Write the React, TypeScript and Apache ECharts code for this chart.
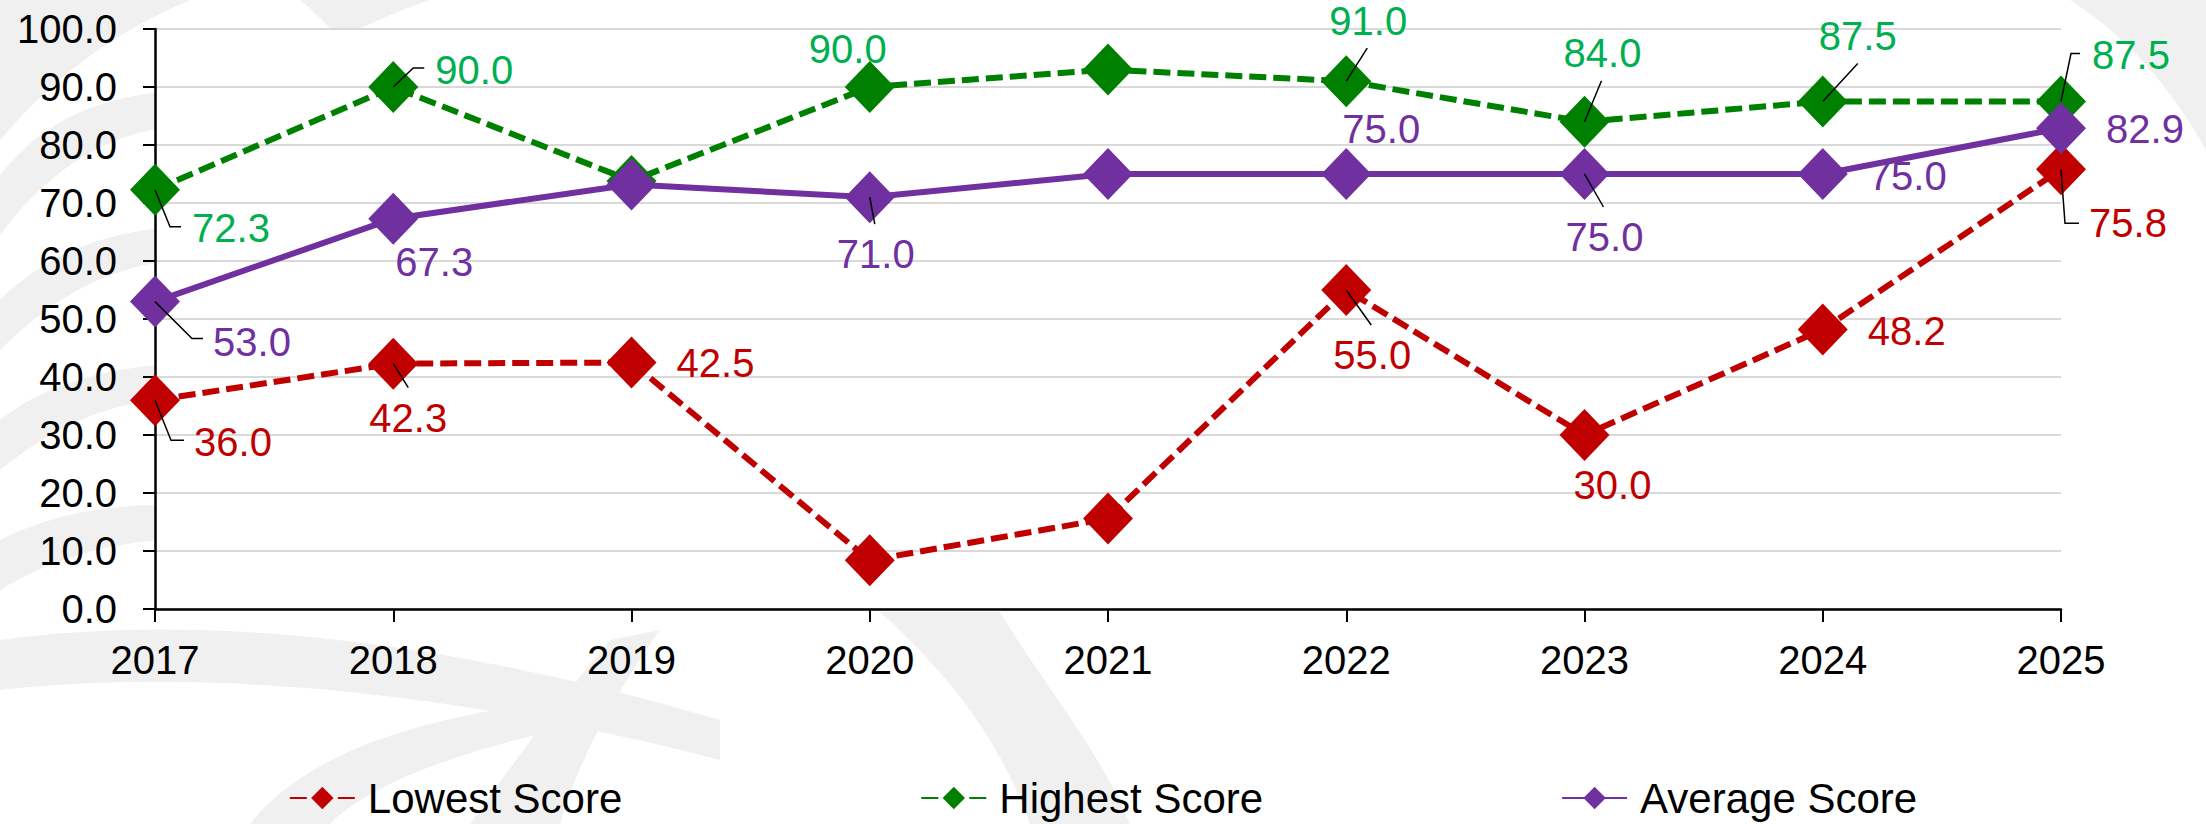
import React, { useEffect, useRef } from "react";
import * as echarts from "echarts";

// ---------- data ----------
const years = ["2017", "2018", "2019", "2020", "2021", "2022", "2023", "2024", "2025"];
const lowestScore = [36.0, 42.3, 42.5, 8.4, 15.6, 55.0, 30.0, 48.2, 75.8];
const highestScore = [72.3, 90.0, 73.8, 90.0, 93.0, 91.0, 84.0, 87.5, 87.5];
const averageScore = [53.0, 67.3, 73.2, 71.0, 75.0, 75.0, 75.0, 75.0, 82.9];
const yMin = 0;
const yMax = 100;
const yStep = 10;
const seriesNames = ["Lowest Score", "Highest Score", "Average Score"];

// ---------- label placement (pixel offsets from the marker centre) ----------
type Off = [number, number] | null;
const lowestLabelOff: Off[] = [[78, 42], [15, 54], [84, 0], null, null, [26, 65], [28, 50], [84, 2], [67, 54]];
const highestLabelOff: Off[] = [[76, 38], [81, -17], null, [-22, -38], null, [22, -60], [18, -69], [35, -66], [70, -47]];
const averageLabelOff: Off[] = [[97, 40], [41, 43], null, [6, 57], null, [35, -45], [20, 63], [85, 2], [84, 1]];

type Pts = number[][] | null;
const lowestLeaders: Pts[] = [[[0, 0], [16, 40], [29, 40]], [[0, 0], [15, 24]], null, null, null, [[0, 0], [25, 35]], null, null, [[0, 0], [4, 54], [18, 54]]];
const highestLeaders: Pts[] = [[[0, 0], [15, 37], [26, 37]], [[0, 0], [20, -19], [31, -19]], null, null, null, [[0, 0], [21, -33]], [[0, 0], [17, -41]], [[0, 0], [35, -38]], [[0, 0], [10, -48], [19, -48]]];
const averageLeaders: Pts[] = [[[0, 0], [37, 37], [48, 37]], null, null, [[0, 0], [5, 27]], null, null, [[0, 0], [19, 33]], null, null];

// ---------- styles ----------
const FONT = "'Liberation Sans', Arial, sans-serif";
const RED = "#C00000";
const GREEN = "#008000";
const GREEN_LABEL = "#00B050";
const PURPLE = "#7030A0";

const watermarkPaths = [
  "M0,0 L190,0 C120,30 60,70 0,140 Z",
  "M0,175 C40,125 90,100 160,92 L160,128 C95,140 45,175 0,235 Z",
  "M0,300 C45,255 100,235 160,228 L160,262 C100,272 50,300 0,350 Z",
  "M0,420 C45,385 100,370 160,365 L160,400 C100,405 50,430 0,470 Z",
  "M0,540 C50,515 105,505 160,505 L160,540 C100,545 50,560 0,590 Z",
  "M0,640 C200,612 450,640 720,720 L720,760 C450,690 200,668 0,690 Z",
  "M250,824 C300,760 400,720 560,700 L600,722 C450,748 360,792 330,824 Z",
  "M470,824 C515,760 560,700 610,640 L660,630 C610,700 575,770 560,824 Z",
  "M880,612 L1000,612 C1040,680 1100,750 1130,824 L1030,824 C1000,740 950,675 880,612 Z",
  "M300,0 L430,0 C400,10 380,20 360,28 L330,28 C320,18 310,8 300,0 Z",
  "M2070,0 L2206,0 L2206,150 C2170,85 2125,35 2070,0 Z",
];

export default function App() {
  const ref = useRef<HTMLDivElement>(null);

  useEffect(() => {
    document.body.style.margin = "0";
    if (!ref.current) return;
    const chart = echarts.init(ref.current, undefined, { renderer: "svg" });

    watermarkPaths.forEach((d, i) => {
      echarts.graphic.registerShape("wm" + i, echarts.graphic.extendPath(d, {}) as any);
    });

    const mkData = (vals: number[], offs: Off[]) =>
      vals.map((v, i) => {
        const o = offs[i];
        return {
          value: v,
          label: o ? { show: true, position: "inside", offset: o } : { show: false },
        };
      });

    const lineSeries = (
      name: string,
      vals: number[],
      offs: Off[],
      color: string,
      labelColor: string,
      dashed: boolean,
      z: number
    ) => ({
      name,
      type: "line",
      data: mkData(vals, offs),
      symbol: "diamond",
      symbolSize: [50, 52],
      showAllSymbol: true,
      z,
      itemStyle: { color, borderWidth: 0 },
      lineStyle: {
        color,
        width: 6,
        type: dashed ? [17, 7] : "solid",
      },
      label: {
        show: true,
        color: labelColor,
        fontSize: 40,
        fontFamily: FONT,
        formatter: (p: any) => Number(p.value).toFixed(1),
      },
      emphasis: { disabled: true },
    });

    // leader lines data built from the series arrays
    const leaderData: any[] = [];
    const leaderPts: number[][][] = [];
    const addLeaders = (vals: number[], pts: Pts[]) => {
      vals.forEach((v, i) => {
        const p = pts[i];
        if (p) {
          leaderData.push([i, v]);
          leaderPts.push(p);
        }
      });
    };
    addLeaders(lowestScore, lowestLeaders);
    addLeaders(highestScore, highestLeaders);
    addLeaders(averageScore, averageLeaders);

    const option: any = {
      animation: false,
      backgroundColor: "#ffffff",
      textStyle: { fontFamily: FONT },
      graphic: watermarkPaths.map((_, i) => ({
        type: "wm" + i,
        x: 0,
        y: 0,
        z: -10,
        silent: true,
        style: { fill: "#F0F0F0", stroke: null },
      })),
      grid: {
        left: 155,
        right: 145,
        top: 29,
        bottom: 215,
        show: true,
        backgroundColor: "#ffffff",
        borderWidth: 0,
      },
      legend: {
        data: seriesNames,
        left: "center",
        top: 772,
        itemGap: 298,
        itemWidth: 65,
        itemHeight: 28,
        textStyle: { fontSize: 42, color: "#000", fontFamily: FONT, padding: [0, 0, 0, 8] },
      },
      xAxis: {
        type: "category",
        data: years,
        boundaryGap: false,
        axisLine: { show: true, lineStyle: { color: "#000", width: 2.5 } },
        axisTick: { show: true, length: 13, lineStyle: { color: "#000", width: 2 } },
        axisLabel: { color: "#000", fontSize: 40, fontFamily: FONT, margin: 31 },
        splitLine: { show: false },
      },
      yAxis: {
        type: "value",
        min: yMin,
        max: yMax,
        interval: yStep,
        axisLine: { show: true, lineStyle: { color: "#000", width: 2.5 } },
        axisTick: { show: true, length: 12, lineStyle: { color: "#000", width: 2 } },
        axisLabel: {
          color: "#000",
          fontSize: 40,
          fontFamily: FONT,
          margin: 38,
          formatter: (v: number) => v.toFixed(1),
        },
        splitLine: { show: true, lineStyle: { color: "#D9D9D9", width: 2 } },
      },
      series: [
        lineSeries(seriesNames[0], lowestScore, lowestLabelOff, RED, RED, true, 2),
        lineSeries(seriesNames[1], highestScore, highestLabelOff, GREEN, GREEN_LABEL, true, 3),
        lineSeries(seriesNames[2], averageScore, averageLabelOff, PURPLE, PURPLE, false, 4),
        {
          type: "custom",
          name: "leaders",
          silent: true,
          z: 10,
          data: leaderData,
          renderItem: (params: any, api: any) => {
            const c = api.coord([api.value(0), api.value(1)]);
            const pts = leaderPts[params.dataIndex].map((p) => [c[0] + p[0], c[1] + p[1]]);
            return {
              type: "polyline",
              shape: { points: pts },
              style: { stroke: "#000", lineWidth: 1.5, fill: null },
            };
          },
        },
      ],
    };

    chart.setOption(option);
    return () => chart.dispose();
  }, []);

  return (
    <div
      ref={ref}
      style={{ position: "absolute", left: 0, top: 0, width: 2206, height: 824 }}
    />
  );
}
